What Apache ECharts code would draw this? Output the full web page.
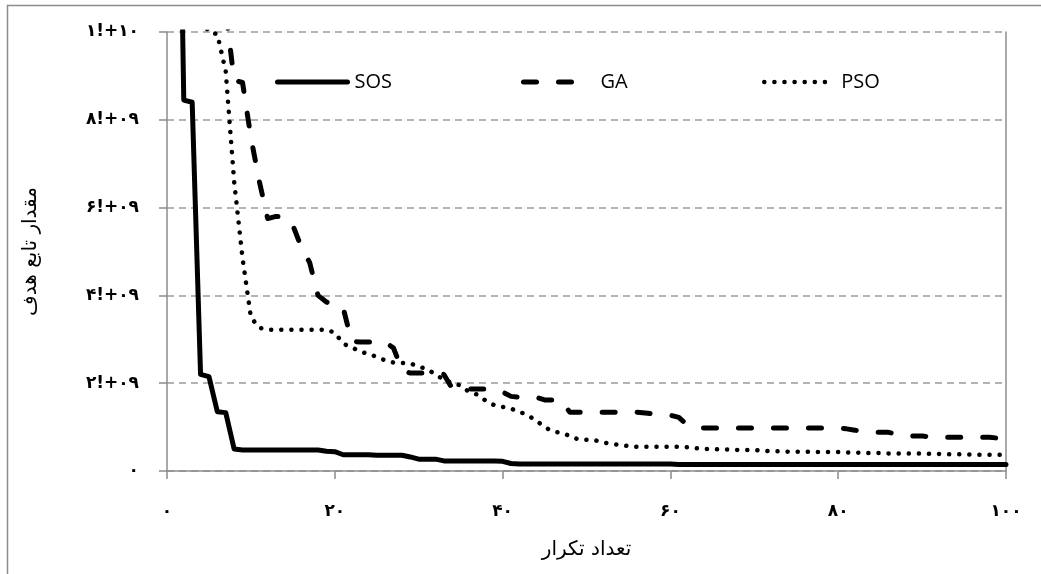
<!DOCTYPE html>
<html><head><meta charset="utf-8">
<script src="https://cdn.jsdelivr.net/npm/echarts@6/dist/echarts.min.js"></script>
<style>html,body{margin:0;padding:0;background:#fff}#c{width:1041px;height:574px}</style>
</head><body><div id="c"></div>
<script>
// values in units of 1e9
const seriesNames = ['SOS', 'GA', 'PSO'];
const xTickValues = [0, 20, 40, 60, 80, 100];
const xTickLabels = ['۰', '۲۰', '۴۰', '۶۰', '۸۰', '۱۰۰'];
const yTickValues = [0, 2, 4, 6, 8, 10];
const yTickLabels = ['۰', '۲!+۰۹', '۴!+۰۹', '۶!+۰۹', '۸!+۰۹', '۱!+۱۰'];
const xTitle = 'تعداد تکرار';
const yTitle = 'مقدار تابع هدف';

const sos = [
  20, 8.45, 8.4, 2.2, 2.15, 1.35, 1.33, 0.5, 0.48, 0.48,
  0.48, 0.48, 0.48, 0.48, 0.48, 0.48, 0.48, 0.48, 0.45, 0.44,
  0.37, 0.37, 0.37, 0.37, 0.36, 0.36, 0.36, 0.36, 0.32, 0.27,
  0.27, 0.27, 0.23, 0.23, 0.23, 0.23, 0.23, 0.23, 0.23, 0.22,
  0.17, 0.16, 0.16, 0.16, 0.16, 0.16, 0.16, 0.16, 0.16, 0.16,
  0.16, 0.16, 0.16, 0.16, 0.16, 0.16, 0.16, 0.16, 0.16, 0.16,
  0.15, 0.15, 0.15, 0.15, 0.15, 0.15, 0.15, 0.15, 0.15, 0.15,
  0.15, 0.15, 0.15, 0.15, 0.15, 0.15, 0.15, 0.15, 0.15, 0.15,
  0.15, 0.15, 0.15, 0.15, 0.15, 0.15, 0.15, 0.15, 0.15, 0.15,
  0.15, 0.15, 0.15, 0.15, 0.15, 0.15, 0.15, 0.15, 0.15, 0.15
];
const ga = [
  15, 14, 13, 12, 11.5, 11, 10.5, 8.9, 8.85, 7.6,
  6.6, 5.75, 5.8, 5.8, 5.6, 5.1, 4.75, 4.0, 3.85, 3.75,
  3.72, 2.95, 2.94, 2.94, 2.94, 2.94, 2.8, 2.3, 2.23, 2.23,
  2.23, 2.23, 2.2, 1.88, 1.87, 1.87, 1.87, 1.87, 1.87, 1.8,
  1.7, 1.68, 1.68, 1.68, 1.62, 1.62, 1.62, 1.34, 1.34, 1.34,
  1.34, 1.34, 1.34, 1.34, 1.34, 1.34, 1.32, 1.3, 1.28, 1.27,
  1.22, 1.05, 0.99, 0.98, 0.98, 0.98, 0.98, 0.98, 0.98, 0.98,
  0.98, 0.98, 0.98, 0.98, 0.98, 0.98, 0.98, 0.98, 0.98, 0.98,
  0.96, 0.93, 0.9, 0.88, 0.88, 0.88, 0.84, 0.8, 0.8, 0.8,
  0.77, 0.77, 0.77, 0.77, 0.77, 0.77, 0.77, 0.77, 0.75, 0.73
];
const pso = [
  12, 11.5, 11, 10.3, 10.0, 9.95, 9.1, 6.6, 4.85, 3.5,
  3.26, 3.22, 3.22, 3.22, 3.22, 3.22, 3.22, 3.22, 3.22, 3.15,
  2.9, 2.82, 2.72, 2.67, 2.6, 2.52, 2.47, 2.46, 2.45, 2.38,
  2.32, 2.2, 2.08, 2.0, 1.95, 1.8, 1.74, 1.6, 1.5, 1.46,
  1.42, 1.35, 1.27, 1.15, 1.0, 0.9, 0.87, 0.8, 0.72, 0.71,
  0.7, 0.65, 0.62, 0.59, 0.57, 0.55, 0.55, 0.55, 0.55, 0.55,
  0.55, 0.54, 0.52, 0.5, 0.5, 0.49, 0.49, 0.48, 0.48, 0.48,
  0.46, 0.45, 0.45, 0.44, 0.44, 0.44, 0.43, 0.43, 0.43, 0.43,
  0.42, 0.42, 0.41, 0.41, 0.41, 0.4, 0.4, 0.4, 0.4, 0.4,
  0.39, 0.39, 0.38, 0.38, 0.38, 0.37, 0.37, 0.37, 0.37, 0.36
];

function pairs(vals) { return vals.map((v, i) => [i + 1, v]); }

const styles = [
  { color: '#000', width: 5, type: 'solid', cap: 'round', join: 'round' },
  { color: '#000', width: 5, type: [13, 22], cap: 'round', join: 'round' },
  { color: '#000', width: 4.5, type: [0.1, 10], cap: 'round', join: 'round' }
];

const chart = echarts.init(document.getElementById('c'), null, { renderer: 'canvas' });
const persianFont = '"DejaVu Sans", "Noto Sans", sans-serif';
function legendFor(i, left) {
  return {
    data: [seriesNames[i]], left: left, top: 72,
    orient: 'horizontal', padding: 0, itemWidth: 70, itemHeight: 14, itemGap: 0,
    itemStyle: { color: 'rgba(0,0,0,0)', borderColor: 'rgba(0,0,0,0)', borderWidth: 0 },
    lineStyle: Object.assign({}, styles[i]),
    textStyle: { fontFamily: '"Open Sans", sans-serif', fontSize: 20, color: '#000', padding: [0, 0, 0, 2] },
    selectedMode: false
  };
}
chart.setOption({
  animation: false,
  backgroundColor: '#fff',
  graphic: [{
    type: 'rect', left: 5, top: 3, shape: { width: 1200, height: 700 },
    style: { fill: 'none', stroke: '#8c8c8c', lineWidth: 1.5 }, silent: true, z: -10
  }],
  grid: { left: 167, right: 35, top: 32, bottom: 103, containLabel: false },
  legend: [legendFor(0, 275), legendFor(1, 521), legendFor(2, 762)],
  xAxis: {
    type: 'value', min: 0, max: 100, interval: 20,
    name: xTitle, nameLocation: 'middle', nameGap: 69,
    nameTextStyle: { fontFamily: persianFont, fontSize: 20, color: '#000' },
    axisLine: { show: true, onZero: false, lineStyle: { color: '#8c8c8c', width: 1.5 } },
    axisTick: { show: true, length: 8, lineStyle: { color: '#8c8c8c', width: 1.5 } },
    axisLabel: {
      margin: 32, fontFamily: persianFont, fontSize: 17, fontWeight: 'bold', color: '#000',
      formatter: v => xTickLabels[xTickValues.indexOf(v)]
    },
    splitLine: { show: false }
  },
  yAxis: [{
    type: 'value', min: 0, max: 10, interval: 2,
    name: yTitle, nameLocation: 'middle', nameGap: 126, nameRotate: 90,
    nameTextStyle: { fontFamily: persianFont, fontSize: 20, color: '#000' },
    axisLine: { show: true, lineStyle: { color: '#8c8c8c', width: 1.5 } },
    axisTick: { show: true, length: 8, lineStyle: { color: '#8c8c8c', width: 1.5 } },
    axisLabel: {
      margin: 28, fontFamily: persianFont, fontSize: 17, fontWeight: 'bold', color: '#000',
      formatter: v => yTickLabels[yTickValues.indexOf(v)]
    },
    splitLine: { show: true, lineStyle: { color: '#9a9a9a', width: 1.5, type: [7, 5] } }
  }, {
    type: 'value', min: 0, max: 10, interval: 2, position: 'right',
    axisLine: { show: true, lineStyle: { color: '#8c8c8c', width: 1.5 } },
    axisTick: { show: false }, axisLabel: { show: false }, splitLine: { show: false }
  }],
  series: [0, 1, 2].map(i => ({
    name: seriesNames[i], type: 'line', data: pairs([sos, ga, pso][i]),
    showSymbol: false, symbol: 'none', clip: true, smooth: false,
    lineStyle: Object.assign({}, styles[i]), itemStyle: { color: '#000' }, z: i === 0 ? 3 : 2
  }))
});
</script></body></html>
